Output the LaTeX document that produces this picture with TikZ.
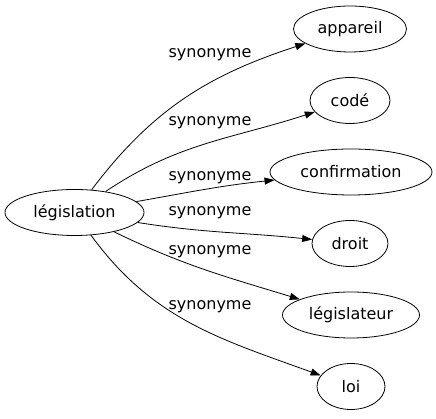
\documentclass[tikz,border=0pt]{standalone}
\usepackage{fontspec}
\setmainfont{DejaVu Sans}
\usepackage{tikz}
\usetikzlibrary{shapes.geometric,arrows.meta}

\tikzset{
  word/.style={draw, ellipse, line width=0.8pt, inner sep=0pt, minimum height=46pt,
    font=\fontsize{16}{19}\selectfont},
  syn/.style={font=\fontsize{16}{19}\selectfont, inner sep=0pt},
  link/.style={line width=0.8pt, -{Triangle[length=10pt,width=7pt]}}
}

\begin{document}
\begin{tikzpicture}[x=1pt,y=1pt]
\useasboundingbox (0,0) rectangle (436,419);
% head word
\node[word, minimum width=139pt] (leg) at (74.5,206.5) {législation};
%
\node[word, minimum width=113pt] (app) at (350,390) {appareil};
\node[word, minimum width=80pt] (code) at (350,318.5) {codé};
\node[word, minimum width=162pt] (conf) at (351,247) {confirmation};
\node[word, minimum width=76pt] (droit) at (350,175.5) {droit};
\node[word, minimum width=137pt] (legr) at (351,104) {législateur};
\node[word, minimum width=68pt] (loi) at (351,32.5) {loi};
%
\node[syn] (s1) at (210,364) {synonyme};
\node[syn] (s2) at (210,296) {synonyme};
\node[syn] (s3) at (210,241) {synonyme};
\node[syn] (s4) at (210,206) {synonyme};
\node[syn] (s5) at (210,167) {synonyme};
\node[syn] (s6) at (210,112) {synonyme};
% links
\draw[link] (leg) to[out=53, in=198] (app);
\draw[link] (leg) to[out=34, in=198] (code);
\draw[link] (leg) to[out=10, in=186] (conf);
\draw[link] (leg) to[out=-9, in=174] (droit);
\draw[link] (leg) to[out=-26, in=163] (legr);
\draw[link] (leg) to[out=-54, in=160] (loi);
\end{tikzpicture}
\end{document}
